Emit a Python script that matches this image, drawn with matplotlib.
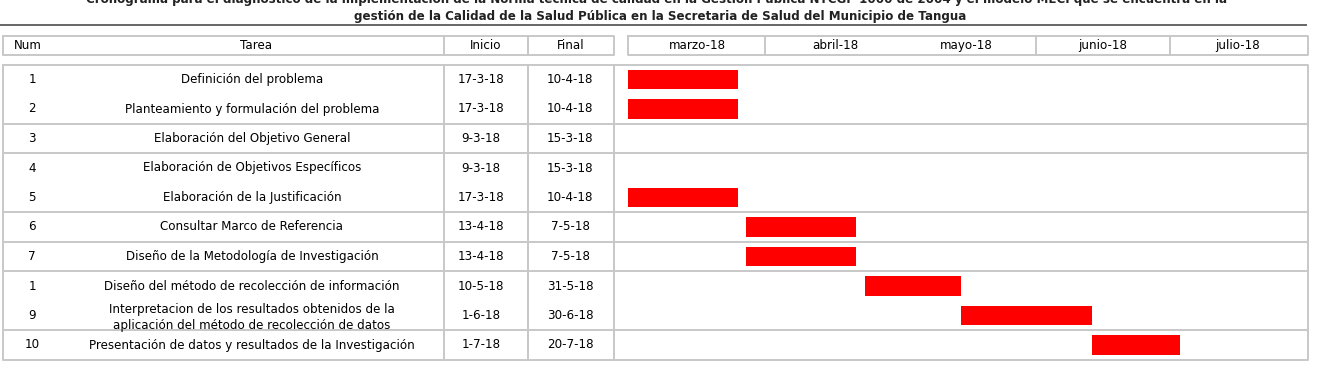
import matplotlib
matplotlib.use('Agg')
import matplotlib.pyplot as plt
import matplotlib.dates as mdates
import datetime as dt

# table data
nums = ['1', '2', '3', '4', '5', '6', '7', '1', '9', '10']
tareas = [
    'Definición del problema',
    'Planteamiento y formulación del problema',
    'Elaboración del Objetivo General',
    'Elaboración de Objetivos Específicos',
    'Elaboración de la Justificación',
    'Consultar Marco de Referencia',
    'Diseño de la Metodología de Investigación',
    'Diseño del método de recolección de información',
    'Interpretacion de los resultados obtenidos de la\naplicación del método de recolección de datos',
    'Presentación de datos y resultados de la Investigación',
]
inicio = ['17-3-18', '17-3-18', '9-3-18', '9-3-18', '17-3-18',
          '13-4-18', '13-4-18', '10-5-18', '1-6-18', '1-7-18']
final = ['10-4-18', '10-4-18', '15-3-18', '15-3-18', '10-4-18',
         '7-5-18', '7-5-18', '31-5-18', '30-6-18', '20-7-18']
meses = ['marzo-18', 'abril-18', 'mayo-18', 'junio-18', 'julio-18']

title1 = ('Cronograma para el diagnóstico de la implementación de la Norma técnica de calidad en la '
          'Gestión Pública NTCGP 1000 de 2004 y el modelo MECI que se encuentra en la')
title2 = ('gestión de la Calidad de la Salud Pública en la Secretaria de Salud del Municipio de Tangua')


def parse(s):
    d, m, y = s.split('-')
    return dt.date(2000 + int(y), int(m), int(d))


W, H = 1317, 372
fig = plt.figure(figsize=(W / 100, H / 100), dpi=100)
ax = fig.add_axes([0, 0, 1, 1])
ax.set_xlim(0, W)
ax.set_ylim(H, 0)
ax.axis('off')

grid = '#c8c8c8'
lw = 1.4
fs = 8.6

# title (first line is cut at the top of the picture, as in the source)
ax.text(657, -1, title1, ha='center', va='center', fontsize=8.6, fontweight='bold', color='#222222')
ax.text(660, 16.5, title2, ha='center', va='center', fontsize=8.6, fontweight='bold', color='#222222')
ax.plot([0, 1306], [25, 25], color='#666666', lw=1.4)

# header row
hy0, hy1 = 36, 55
for x0, x1 in [(3, 614), (628, 1308)]:
    ax.plot([x0, x1, x1, x0, x0], [hy0, hy0, hy1, hy1, hy0], color=grid, lw=lw)
for x in [444, 528, 765, 1036, 1170]:
    ax.plot([x, x], [hy0, hy1], color=grid, lw=lw)
hy = (hy0 + hy1) / 2
ax.text(14, hy, 'Num', ha='left', va='center', fontsize=fs)
ax.text(256, hy, 'Tarea', ha='center', va='center', fontsize=fs)
ax.text(486, hy, 'Inicio', ha='center', va='center', fontsize=fs)
ax.text(571, hy, 'Final', ha='center', va='center', fontsize=fs)
month_x = [697, 835, 966, 1103, 1238]
for mx, m in zip(month_x, meses):
    ax.text(mx, hy, m, ha='center', va='center', fontsize=fs)

# body rows
y0, step = 79.5, 29.5
rows_y = [y0 + step * i for i in range(len(nums))]
top, bottom = y0 - step / 2, y0 + step * (len(nums) - 0.5)
ax.plot([3, 1308, 1308, 3, 3], [top, top, bottom, bottom, top], color=grid, lw=lw)
for x in [444, 528, 614]:
    ax.plot([x, x], [top, bottom], color=grid, lw=lw)
for i in [1, 2, 4, 5, 6, 8]:
    yy = y0 + step * (i + 0.5)
    ax.plot([3, 1308], [yy, yy], color=grid, lw=lw, zorder=3)

for y, n, t, a, b in zip(rows_y, nums, tareas, inicio, final):
    ax.text(32, y, n, ha='center', va='center', fontsize=fs)
    ax.text(252, y + (2 if '\n' in t else 0), t, ha='center', va='center',
            fontsize=fs, linespacing=1.3)
    ax.text(481, y, a, ha='center', va='center', fontsize=fs)
    ax.text(570, y, b, ha='center', va='center', fontsize=fs)

# gantt bars
gx0, gx1 = 628, 1308
gx = fig.add_axes([gx0 / W, 1 - bottom / H, (gx1 - gx0) / W, (bottom - top) / H])
gx.patch.set_alpha(0)
for s in gx.spines.values():
    s.set_visible(False)
gx.set_xticks([])
gx.set_yticks([])

starts = [mdates.date2num(parse(s)) for s in inicio]
ends = [mdates.date2num(parse(s)) + 1 for s in final]
widths = [e - s for s, e in zip(starts, ends)]
gx.barh(range(len(nums)), widths, left=starts, height=0.66, color='#ff0000')
x_left = mdates.date2num(dt.date(2018, 3, 17))
gx.set_xlim(x_left, x_left + (gx1 - gx0) / 4.38)
gx.set_ylim(len(nums) - 0.5, -0.5)

fig.savefig('out.png', dpi=100)
